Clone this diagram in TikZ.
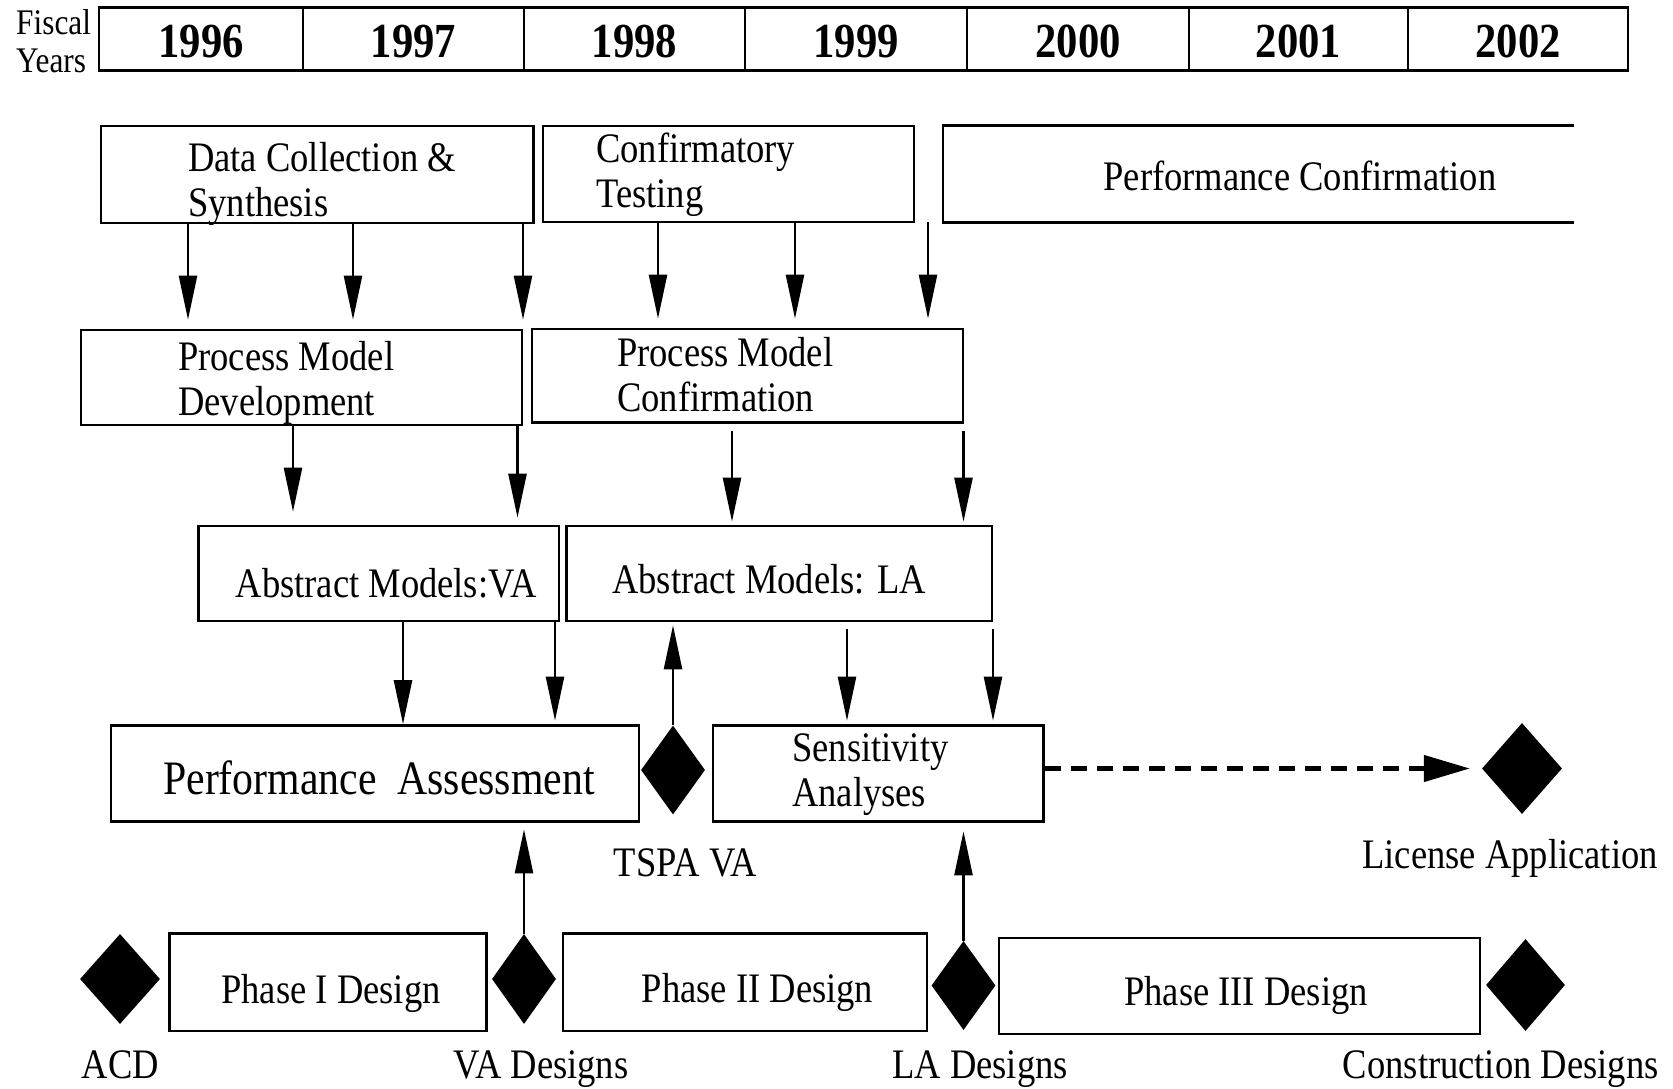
\documentclass[tikz,border=0pt]{standalone}
\usepackage{fontspec}
\setmainfont{Liberation Serif}[FakeStretch=0.87]
\usetikzlibrary{arrows.meta,shapes.geometric}
\begin{document}
\begin{tikzpicture}[x=1pt,y=-1pt,
  box/.style={draw, line width=2.6pt, inner sep=0pt},
  yearcell/.style={draw, line width=2.8pt, inner sep=0pt, minimum height=63pt,
    text height=38pt, text depth=0pt,
    font=\fontsize{49}{50}\selectfont\bfseries},
  txt/.style={inner sep=0pt, font=\fontsize{42}{45}\selectfont},
  ltxt/.style={txt, align=left, anchor=west},
  btxt/.style={txt, anchor=base},
  dia/.style={diamond, fill=black, draw=none, inner sep=0pt},
  arr/.style={line width=2.4pt, -{Triangle[length=44pt,width=18pt]}},
  darr/.style={line width=4.5pt, dash pattern=on 16pt off 10pt, -{Triangle[length=46pt,width=26pt]}}
]
\useasboundingbox (0,0) rectangle (1673,1089);

% Fiscal years bar
\node[inner sep=0pt, align=left, anchor=west, font=\fontsize{36}{38}\selectfont] (fy) at (16,41) {Fiscal\\Years};
\node[yearcell, minimum width=204pt] (y96) at (201,39) {1996};
\node[yearcell, minimum width=221pt] (y97) at (413.5,39) {1997};
\node[yearcell, minimum width=221pt] (y98) at (634.5,39) {1998};
\node[yearcell, minimum width=222pt] (y99) at (856,39) {1999};
\node[yearcell, minimum width=222pt] (y00) at (1078,39) {2000};
\node[yearcell, minimum width=219pt] (y01) at (1298.5,39) {2001};
\node[yearcell, minimum width=220pt] (y02) at (1518,39) {2002};

% Row 1
\node[box, minimum width=432.5pt, minimum height=97pt] (dcs) at (317.25,174.5) {};
\node[ltxt] (dcst) at (188,183.5) {Data Collection \&\\Synthesis};
\node[box, minimum width=371pt, minimum height=96pt] (ct) at (728.5,174) {};
\node[ltxt] (ctt) at (596,175) {Confirmatory\\Testing};
\node[inner sep=0pt, minimum width=631pt, minimum height=96pt] (pc) at (1258.5,174) {};
\draw[line width=2.6pt] (pc.north east) -- (pc.north west) -- (pc.south west) -- (pc.south east);
\node[btxt] (pct) at (1300,190) {Performance Confirmation};

% Row 2
\node[box, minimum width=441pt, minimum height=95pt] (pmd) at (301.5,377.5) {};
\node[ltxt] (pmdt) at (178,382.5) {Process Model\\Development};
\node[box, minimum width=431pt, minimum height=93.5pt] (pmc) at (747.5,375.75) {};
\node[ltxt] (pmct) at (617,374.5) {Process Model\\Confirmation};

% Row 3
\node[box, minimum width=360.5pt, minimum height=95pt] (amva) at (378.75,573.5) {};
\node[btxt] (amvat) at (386,597.5) {Abstract Models:VA};
\node[box, minimum width=425.5pt, minimum height=95pt] (amla) at (779.25,573.5) {};
\node[btxt] (amlat) at (769,593) {Abstract Models: LA};

% Row 4
\node[box, minimum width=528pt, minimum height=96pt] (pa) at (375,773.5) {};
\node[txt, anchor=base, font=\fontsize{48}{50}\selectfont] (pat) at (379,794) {Performance\ \ Assessment};
\node[box, minimum width=330.5pt, minimum height=96pt] (sa) at (878.25,773.5) {};
\node[ltxt] (sat) at (792,774.5) {Sensitivity\\Analyses};
\node[dia, minimum width=64pt, minimum height=89pt] (dtspa) at (673,770) {};
\node[dia, minimum width=80pt, minimum height=91pt] (dlapp) at (1522,768.5) {};
\node[btxt] (tspat) at (685.5,876) {TSPA VA};
\node[btxt] (lappt) at (1510,868.5) {License Application};

% Row 5
\node[dia, minimum width=80pt, minimum height=90pt] (dacd) at (120,979) {};
\node[box, minimum width=317pt, minimum height=97.5pt] (ph1) at (328,982.25) {};
\node[btxt] (ph1t) at (331,1003) {Phase I Design};
\node[dia, minimum width=64pt, minimum height=90pt] (dva) at (524,979) {};
\node[box, minimum width=364pt, minimum height=97.5pt] (ph2) at (745,982.25) {};
\node[btxt] (ph2t) at (757.5,1002) {Phase II Design};
\node[dia, minimum width=64pt, minimum height=89pt] (dlad) at (963.5,985.5) {};
\node[box, minimum width=481pt, minimum height=96pt] (ph3) at (1239.5,986) {};
\node[btxt] (ph3t) at (1246,1005) {Phase III Design};
\node[dia, minimum width=79pt, minimum height=92pt] (dcon) at (1525.5,985) {};
\node[btxt] (acdt) at (120.5,1078) {ACD};
\node[btxt] (vadt) at (541,1078) {VA Designs};
\node[btxt] (ladt) at (980,1078) {LA Designs};
\node[btxt] (cont) at (1500.7,1078) {Construction Designs};

% columns for vertical arrows
\coordinate (xa) at (188,0);
\coordinate (xb) at (353,0);
\coordinate (xc) at (523,0);
\coordinate (xd) at (658,0);
\coordinate (xe) at (795,0);
\coordinate (xf) at (928,0);
\coordinate (xg) at (293,0);
\coordinate (xh) at (517.5,0);
\coordinate (xi) at (732,0);
\coordinate (xj) at (963.5,0);
\coordinate (xk) at (403,0);
\coordinate (xl) at (555,0);
\coordinate (xm) at (847,0);
\coordinate (xn) at (993,0);

% row 1 -> row 2
\draw[arr, shorten >=9pt] (dcs.south -| xa) -- (pmd.north -| xa);
\draw[arr, shorten >=9pt] (dcs.south -| xb) -- (pmd.north -| xb);
\draw[arr, shorten >=9pt] (dcs.south -| xc) -- (pmd.north -| xc);
\draw[arr, shorten >=9pt] (ct.south -| xd) -- (pmc.north -| xd);
\draw[arr, shorten >=9pt] (ct.south -| xe) -- (pmc.north -| xe);
\draw[arr, shorten >=9pt] (pc.south -| xf) -- (pmc.north -| xf);

% row 2 -> row 3
\draw[arr, shorten >=13pt] (pmd.south -| xg) -- (amva.north -| xg);
\draw[arr, shorten >=7pt] (pmd.south -| xh) -- (amva.north -| xh);
\draw[arr, shorten <=7pt, shorten >=3pt] (pmc.south -| xi) -- (amla.north -| xi);
\draw[arr, shorten <=7pt, shorten >=3pt] (pmc.south -| xj) -- (amla.north -| xj);

% row 3 -> row 4
\draw[arr] (amva.south -| xk) -- (pa.north -| xk);
\draw[arr, shorten >=3.5pt] (amva.south -| xl) -- (pa.north -| xl);
\draw[arr, shorten <=7pt, shorten >=3.5pt] (amla.south -| xm) -- (sa.north -| xm);
\draw[arr, shorten <=7pt, shorten >=3.5pt] (amla.south -| xn) -- (sa.north -| xn);

% upward arrows from milestones
\draw[arr, shorten >=3pt] (dtspa.north) -- (amla.south -| dtspa.north);
\draw[arr, shorten >=6.5pt] (dva.north) -- (pa.south -| dva.north);
\draw[arr, shorten >=8.5pt] (dlad.north) -- (sa.south -| dlad.north);

% dashed arrow to license application
\draw[darr, shorten >=12pt] (sa.east |- dlapp.west) -- (dlapp.west);
\end{tikzpicture}
\end{document}
